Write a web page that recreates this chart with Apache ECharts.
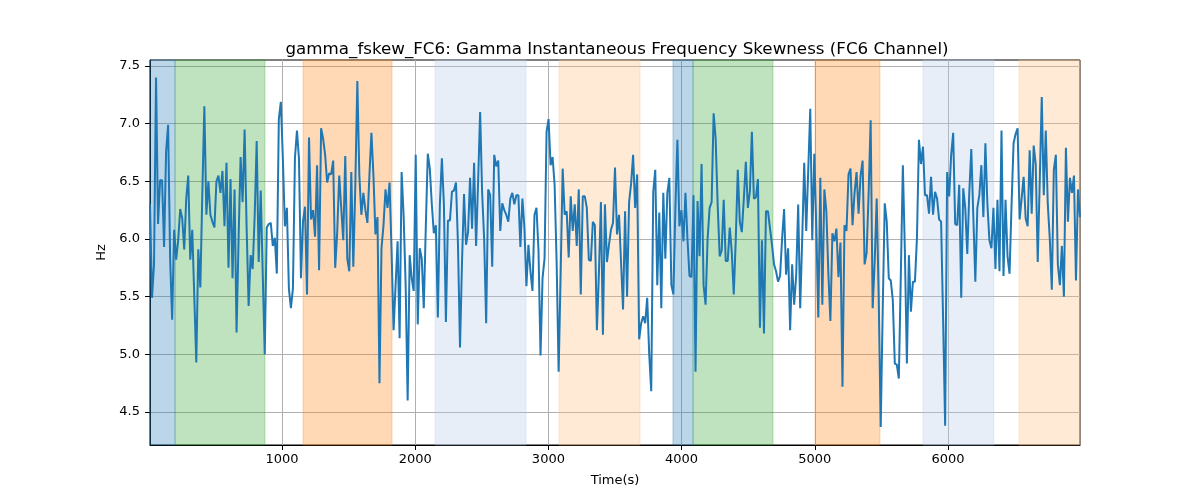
<!DOCTYPE html>
<html>
<head>
<meta charset="utf-8">
<script src="https://cdn.jsdelivr.net/npm/echarts@6/dist/echarts.min.js"></script>
<style>
  html, body { margin: 0; padding: 0; background: #fff; }
  #chart { width: 1200px; height: 500px; }
</style>
</head>
<body>
<div id="chart"></div>
<script>
const T_START = 9;
const T_END = 6991;
const hzValues = [
  6.30, 5.49, 5.78, 7.40, 6.13, 6.51, 6.51, 5.93, 6.76, 6.99, 5.83, 5.30, 6.08, 5.82, 5.99, 6.26,
  6.18, 5.91, 6.35, 6.55, 5.82, 6.08, 5.50, 4.93, 5.91, 5.58, 6.40, 7.15, 6.21, 6.50, 6.21, 6.15,
  6.10, 6.50, 6.55, 6.40, 6.59, 6.11, 6.66, 5.75, 6.52, 5.66, 6.43, 5.19, 6.00, 6.71, 6.32, 6.95,
  6.10, 5.42, 5.86, 5.74, 6.20, 6.85, 5.80, 6.42, 5.70, 5.00, 6.10, 6.13, 6.14, 5.94, 6.01, 5.70,

  7.04, 7.19, 6.70, 6.11, 6.27, 5.57, 5.40, 5.57, 6.70, 6.94, 6.70, 5.66, 6.15, 6.28, 5.52, 6.88,
  6.17, 6.25, 6.02, 6.64, 5.73, 6.96, 6.87, 6.73, 6.49, 6.57, 6.56, 6.68, 5.75, 6.06, 6.55, 6.27,
  5.99, 6.72, 5.83, 5.72, 6.58, 5.76, 6.47, 7.37, 6.55, 6.21, 6.40, 6.25, 6.14, 6.55, 6.92, 6.55,
  6.04, 6.19, 4.75, 5.92, 6.12, 6.43, 6.27, 6.49, 5.90, 5.21, 5.60, 5.98, 5.14, 6.58, 6.20, 5.60,
  4.60,

  5.86, 5.66, 5.55, 6.73, 5.26, 5.92, 5.83, 5.40, 6.10, 6.74, 6.61, 6.30, 6.05, 6.12, 5.32, 6.30,
  6.70, 6.30, 5.28, 6.16, 6.16, 6.41, 6.42, 6.49, 5.95, 5.06, 5.80, 6.39, 5.95, 6.06, 6.53, 6.09,
  6.66, 5.94, 6.50, 7.10, 6.40, 6.00, 5.27, 6.43, 6.38, 5.76, 6.73, 6.63, 6.68, 6.07, 6.31, 6.25,
  6.21, 6.15, 6.35, 6.40, 6.30, 6.38, 6.38, 5.93, 6.35, 6.10, 5.59, 5.95, 5.72, 5.55, 6.21, 6.27,
  5.90, 4.99,

  5.66, 5.83, 6.93, 7.04, 6.64, 6.71, 6.47, 5.80, 4.85, 5.70, 6.61, 6.21, 6.24, 5.84, 6.37, 6.07,
  6.30, 5.94, 6.43, 5.52, 6.37, 6.37, 6.27, 5.82, 5.81, 6.15, 6.12, 5.21, 5.70, 6.32, 5.17, 6.30,
  5.80, 5.95, 6.08, 6.14, 6.62, 6.04, 6.21, 5.80, 5.39, 6.24, 5.50, 6.32, 6.48, 6.73, 6.27, 6.56,
  5.13, 5.27, 5.33, 5.27, 5.49, 5.00, 4.68, 6.41, 6.60, 5.60, 6.23, 5.40, 6.40, 5.83, 6.40, 6.53,
  5.60, 5.52,

  6.27, 6.86, 6.11, 6.25, 5.98, 6.40, 6.00, 5.68, 5.67, 6.38, 4.85, 6.33, 5.85, 6.65, 5.60, 5.43,
  6.00, 6.27, 6.32, 7.09, 6.87, 6.30, 5.85, 5.90, 6.34, 5.81, 5.81, 6.10, 5.89, 5.52, 6.00, 6.60,
  6.15, 6.06, 6.35, 6.67, 6.27, 6.41, 6.93, 6.35, 6.36, 6.52, 5.23, 5.99, 5.18, 6.24, 6.24, 6.09,
  5.95, 5.78, 5.72, 5.63, 5.68, 6.00, 6.26, 5.69, 5.92, 5.21, 5.78, 5.43, 5.68, 6.30, 5.40, 6.00,
  6.66, 6.07,

  6.60, 7.13, 5.99, 6.74, 6.10, 5.32, 6.53, 5.43, 6.43, 6.24, 5.70, 5.29, 6.05, 5.98, 6.09, 5.67,
  5.97, 4.72, 6.12, 6.07, 6.56, 6.61, 6.12, 6.40, 6.58, 6.22, 6.55, 6.68, 5.78, 5.88, 6.40, 7.03,
  5.40, 5.80, 6.35, 5.50, 4.37, 5.40, 6.31, 6.15, 5.66, 5.64, 5.47, 4.92, 4.91, 4.79, 5.70, 6.64,
  5.90, 4.92, 5.86, 5.37, 5.63, 5.63, 6.01, 6.86, 6.65, 6.80, 6.38, 6.38, 6.22, 6.54, 6.21, 6.41,
  6.35, 6.17,

  6.15, 5.30, 4.38, 6.58, 6.37, 6.73, 6.92, 6.13, 6.12, 6.47, 5.49, 6.44, 6.27, 5.87, 6.40, 6.78,
  6.20, 5.63, 6.27, 6.38, 6.64, 6.19, 6.83, 6.30, 5.99, 5.92, 6.27, 5.74, 6.34, 5.72, 6.94, 5.68,
  6.34, 5.85, 5.70, 6.30, 6.83, 6.91, 6.96, 6.17, 6.35, 6.54, 6.18, 6.11, 6.77, 6.22, 6.81, 6.65,
  5.80, 6.50, 7.23, 6.38, 6.94, 6.30, 6.00, 5.56, 6.60, 6.73, 5.78, 5.60, 5.94, 5.50, 6.79, 6.15,
  6.53, 6.40, 6.55, 5.64, 6.43, 6.19
];

// shaded intervals (seconds) and their kind
const spanStart = [9, 197, 1158, 2149, 3080, 3935, 4086, 5002, 5812, 6533];
const spanEnd   = [197, 872, 1826, 2832, 3688, 4086, 4686, 5489, 6345, 6991];
const spanKind  = ['b', 'g', 'o', 'lb', 'lo', 'b', 'g', 'o', 'lb', 'lo'];

const xTicks = [1000, 2000, 3000, 4000, 5000, 6000];
const yTicks = [4.5, 5.0, 5.5, 6.0, 6.5, 7.0, 7.5];
const Y_MIN = 4.214;
const Y_MAX = 7.552;

const KIND_COLOR = {
  b: 'rgba(31,119,180,0.3)',
  g: 'rgba(44,160,44,0.3)',
  o: 'rgba(255,127,14,0.3)',
  lb: 'rgba(174,199,232,0.3)',
  lo: 'rgba(255,187,120,0.3)'
};

const step = (T_END - T_START) / (hzValues.length - 1);
const seriesData = hzValues.map((v, i) => [T_START + i * step, v]);

const areas = spanStart.map((s, i) => [
  { xAxis: s, itemStyle: { color: KIND_COLOR[spanKind[i]], borderColor: KIND_COLOR[spanKind[i]], borderWidth: 1 } },
  { xAxis: spanEnd[i] }
]);

const FONT = 'DejaVu Sans';
const chart = echarts.init(document.getElementById('chart'), null, { renderer: 'canvas' });

chart.setOption({
  animation: false,
  backgroundColor: '#fff',
  title: {
    text: 'gamma_fskew_FC6: Gamma Instantaneous Frequency Skewness (FC6 Channel)',
    left: 612,
    top: 36,
    textAlign: 'center',
    textStyle: { fontFamily: FONT, fontSize: 16.7, fontWeight: 'normal', color: '#000' }
  },
  grid: {
    left: 150, right: 120, top: 60, bottom: 55,
    show: true, borderColor: '#000', borderWidth: 1, backgroundColor: 'transparent'
  },
  xAxis: {
    type: 'value',
    min: T_START,
    max: T_END,
    name: 'Time(s)',
    nameLocation: 'middle',
    nameGap: 29,
    nameTextStyle: { fontFamily: FONT, fontSize: 13, color: '#000' },
    axisLine: { show: true, lineStyle: { color: '#000', width: 1 } },
    axisTick: { show: true, customValues: xTicks, length: 5, lineStyle: { color: '#000' } },
    axisLabel: {
      customValues: xTicks, margin: 8, fontFamily: FONT, fontSize: 13, color: '#000',
      formatter: v => String(v)
    },
    splitLine: { show: true, lineStyle: { color: '#b0b0b0', width: 1 } }
  },
  yAxis: {
    type: 'value',
    min: Y_MIN,
    max: Y_MAX,
    name: 'Hz',
    nameLocation: 'middle',
    nameGap: 38,
    nameTextStyle: { fontFamily: FONT, fontSize: 13, color: '#000' },
    axisLine: { show: true, lineStyle: { color: '#000', width: 1 } },
    axisTick: { show: true, customValues: yTicks, length: 5, lineStyle: { color: '#000' } },
    axisLabel: {
      customValues: yTicks, margin: 10, fontFamily: FONT, fontSize: 13, color: '#000',
      formatter: v => v.toFixed(1)
    },
    splitLine: { show: true, lineStyle: { color: '#b0b0b0', width: 1 } }
  },
  series: [{
    type: 'line',
    data: seriesData,
    showSymbol: false,
    lineStyle: { color: '#1f77b4', width: 2 },
    itemStyle: { color: '#1f77b4' },
    markArea: { silent: true, data: areas }
  }]
});
</script>
</body>
</html>
